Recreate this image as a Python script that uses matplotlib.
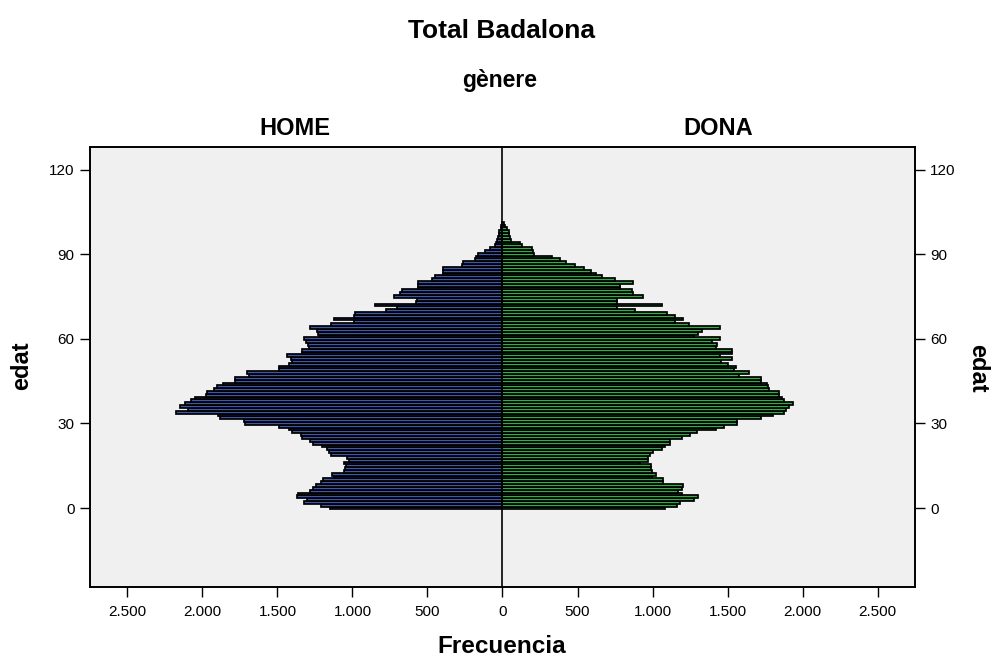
import numpy as np
import matplotlib
matplotlib.use('Agg')
import matplotlib.pyplot as plt
from matplotlib.ticker import FuncFormatter

plt.rcParams['font.family'] = ['Liberation Sans', 'DejaVu Sans']

#ages 0..101
ages = list(range(0, 102))

#men per age (HOME)
home = [1150, 1210, 1320, 1300, 1370, 1360, 1280, 1265, 1240, 1210,
        1195, 1120, 1135, 1055, 1050, 1045, 1055, 1020, 1035, 1140,
        1155, 1170, 1200, 1265, 1280, 1335, 1345, 1400, 1425, 1490,
        1715, 1720, 1880, 1895, 2175, 2095, 2150, 2115, 2075, 2050,
        1975, 1970, 1925, 1900, 1860, 1780, 1780, 1690, 1705, 1490,
        1490, 1420, 1400, 1410, 1435, 1335, 1335, 1290, 1295, 1310,
        1320, 1220, 1230, 1235, 1280, 1145, 990, 1120, 990, 985,
        775, 705, 850, 575, 570, 720, 685, 670, 560, 560,
        560, 470, 450, 395, 395, 395, 270, 260, 180, 175,
        160, 115, 80, 50, 45, 35, 30, 25, 20, 12,
        8, 5]

#women per age (DONA)
dona = [1085, 1160, 1180, 1275, 1305, 1195, 1170, 1195, 1200, 1070,
        1070, 995, 1020, 995, 990, 990, 915, 970, 970, 980,
        1005, 1060, 1080, 1115, 1115, 1195, 1250, 1295, 1420, 1475,
        1565, 1565, 1720, 1800, 1875, 1890, 1910, 1935, 1875, 1865,
        1845, 1845, 1775, 1770, 1765, 1720, 1720, 1575, 1640, 1545,
        1555, 1500, 1455, 1530, 1450, 1530, 1530, 1420, 1430, 1395,
        1450, 1275, 1300, 1330, 1450, 1240, 1150, 1205, 1150, 1095,
        880, 760, 1060, 760, 760, 935, 870, 860, 780, 780,
        870, 750, 660, 625, 590, 545, 480, 425, 380, 330,
        210, 205, 200, 130, 120, 55, 50, 45, 42, 30,
        15, 8]

xticks = [-2500, -2000, -1500, -1000, -500, 0, 500, 1000, 1500, 2000, 2500]
yticks = [0, 30, 60, 90, 120]

#figure
fig = plt.figure(figsize=(9.92, 6.57), dpi=100)
ax = fig.add_axes([0.0907, 0.1065, 0.8317, 0.6697])
ax.set_facecolor('#f0f0f0')

ax.barh(ages, [-v for v in home], height=1.0, color='#3f57a8',
        edgecolor='black', linewidth=1.25)
ax.barh(ages, dona, height=1.0, color='#2fae45',
        edgecolor='black', linewidth=1.25)
ax.axvline(0, color='black', linewidth=1.2)

ax.set_xlim(-2750, 2750)
ax.set_ylim(-28, 128)

ax.set_xticks(xticks)
ax.xaxis.set_major_formatter(FuncFormatter(lambda v, p: f'{abs(int(v)):,}'.replace(',', '.')))
ax.set_yticks(yticks)
ax.tick_params(axis='x', direction='out', length=7, width=1, labelsize=11, pad=6)
ax.tick_params(axis='y', direction='out', length=7, width=1, labelsize=11,
               left=True, right=True, labelleft=True, labelright=True, pad=4)
for s in ax.spines.values():
    s.set_linewidth(1.4)

#texts
fig.text(0.506, 0.953, 'Total Badalona', ha='center', va='center', fontsize=19, fontweight='bold')
fig.text(0.504, 0.878, 'gènere', ha='center', va='center', fontsize=16.5, fontweight='bold')
fig.text(0.297, 0.805, 'HOME', ha='center', va='center', fontsize=17, fontweight='bold')
fig.text(0.724, 0.805, 'DONA', ha='center', va='center', fontsize=17, fontweight='bold')
fig.text(0.506, 0.006, 'Frecuencia', ha='center', va='baseline', fontsize=17.5, fontweight='bold')
fig.text(0.022, 0.444, 'edat', ha='center', va='center', rotation=90, fontsize=17, fontweight='bold')
fig.text(0.986, 0.440, 'edat', ha='center', va='center', rotation=270, fontsize=17, fontweight='bold')

plt.savefig('out.png', dpi=100)
